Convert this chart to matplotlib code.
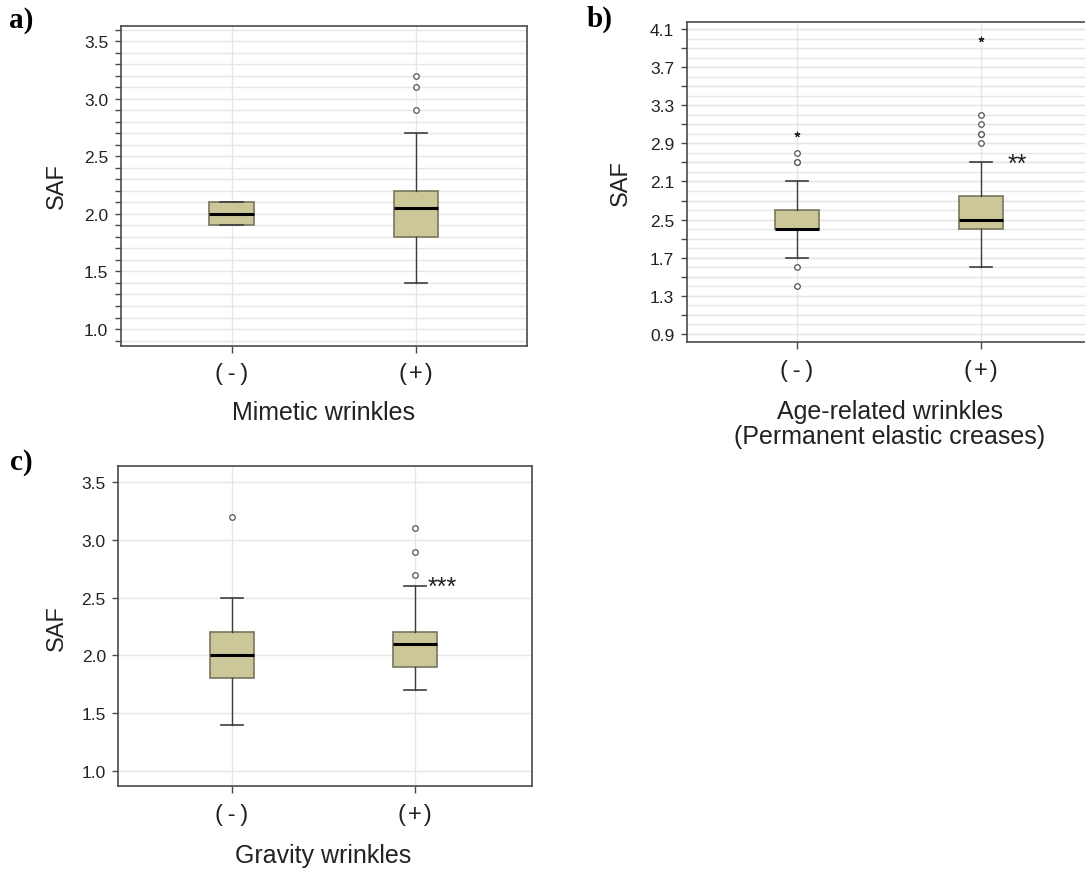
import matplotlib
matplotlib.use("Agg")
import matplotlib.pyplot as plt
from matplotlib.ticker import MultipleLocator, FixedLocator, FixedFormatter

# ---------------- data ----------------
categories = ["(-)", "(+)"]
category_display = ["(\u2009-\u2009)", "(\u200a+\u200a)"]

# panel a: Mimetic wrinkles
a_q1 = [1.9, 1.8]
a_med = [2.0, 2.05]
a_q3 = [2.1, 2.2]
a_wlo = [1.9, 1.4]
a_whi = [2.1, 2.7]
a_fliers = [[], [2.9, 3.1, 3.2]]
a_extremes = [[], []]

# panel b: Age-related wrinkles
b_q1 = [2.0, 2.0]
b_med = [2.0, 2.1]
b_q3 = [2.2, 2.35]
b_wlo = [1.7, 1.6]
b_whi = [2.5, 2.7]
b_fliers = [[1.4, 1.6, 2.7, 2.7, 2.8], [2.9, 3.0, 3.0, 3.1, 3.2]]
b_extremes = [[3.0], [4.0]]
b_tick_pos = [0.9, 1.3, 1.7, 2.1, 2.5, 2.9, 3.3, 3.7, 4.1]
b_tick_labels = ["0.9", "1.3", "1.7", "2.5", "2.1", "2.9", "3.3", "3.7", "4.1"]

# panel c: Gravity wrinkles
c_q1 = [1.8, 1.9]
c_med = [2.0, 2.1]
c_q3 = [2.2, 2.2]
c_wlo = [1.4, 1.7]
c_whi = [2.5, 2.6]
c_fliers = [[3.2], [2.7, 2.9, 3.1]]
c_extremes = [[], []]

# ---------------- style ----------------
W, H = 1085, 870
fig = plt.figure(figsize=(W / 100, H / 100), dpi=100)
SANS = ["Liberation Sans", "DejaVu Sans"]
SERIF = ["Liberation Serif", "DejaVu Serif"]
plt.rcParams["font.family"] = SANS

BOX_FILL = "#cbc798"
BOX_EDGE = "#77765f"
WHISK = "#3d3d3d"
GRID = "#e6e6e6"
SPINE = "#4a4a4a"
TXT = "#222222"


def px_axes(left, top, right, bottom):
    return fig.add_axes([left / W, 1 - bottom / H, (right - left) / W, (bottom - top) / H])


def draw_panel(ax, q1, med, q3, wlo, whi, fliers, extremes, ylim, xlim=(0.4, 2.6)):
    stats = []
    for i in range(len(categories)):
        stats.append(dict(q1=q1[i], med=med[i], q3=q3[i], whislo=wlo[i],
                          whishi=whi[i], fliers=fliers[i], label=categories[i]))
    ax.bxp(stats, positions=[1, 2], widths=0.24, capwidths=0.12,
           patch_artist=True, showfliers=True,
           boxprops=dict(facecolor=BOX_FILL, edgecolor=BOX_EDGE, linewidth=1.2),
           medianprops=dict(color="black", linewidth=2.2),
           whiskerprops=dict(color=WHISK, linewidth=1.0),
           capprops=dict(color=WHISK, linewidth=1.2),
           flierprops=dict(marker="o", markersize=4, markerfacecolor="white",
                           markeredgecolor="#555555", markeredgewidth=0.9),
           zorder=3)
    for i, ex in enumerate(extremes):
        if ex:
            ax.plot([i + 1] * len(ex), ex, linestyle="none", marker=(5, 2, 0),
                    markersize=4, color="#222222", markeredgewidth=0.8, zorder=4)
    ax.set_xlim(*xlim)
    ax.set_ylim(*ylim)
    ax.set_xticks([1, 2])
    ax.set_xticklabels(category_display, fontsize=17, color=TXT)
    ax.tick_params(axis="x", length=5, width=1, color=SPINE, pad=7)
    ax.tick_params(axis="y", labelsize=12.5, labelcolor=TXT, color=SPINE,
                   width=1, length=4, pad=5)
    for s in ax.spines.values():
        s.set_color(SPINE)
        s.set_linewidth(1.2)
    ax.set_axisbelow(True)
    ax.xaxis.grid(True, color=GRID, linewidth=1.0)


# ---------------- panel a ----------------
ax_a = px_axes(120.7, 26.7, 527, 346.7)
draw_panel(ax_a, a_q1, a_med, a_q3, a_wlo, a_whi, a_fliers, a_extremes, (0.855, 3.636))
ax_a.yaxis.set_major_locator(FixedLocator([1.0, 1.5, 2.0, 2.5, 3.0, 3.5]))
ax_a.yaxis.set_major_formatter(FixedFormatter(["1.0", "1.5", "2.0", "2.5", "3.0", "3.5"]))
ax_a.yaxis.set_minor_locator(MultipleLocator(0.1))
ax_a.tick_params(axis="y", which="minor", length=4, width=1, color=SPINE)
ax_a.yaxis.grid(True, which="both", color=GRID, linewidth=1.0)

# ---------------- panel b ----------------
ax_b = px_axes(686.7, 23.3, 1091, 343.3)
draw_panel(ax_b, b_q1, b_med, b_q3, b_wlo, b_whi, b_fliers, b_extremes, (0.813, 4.17))
ax_b.yaxis.set_major_locator(FixedLocator(b_tick_pos))
ax_b.yaxis.set_major_formatter(FixedFormatter(b_tick_labels))
minor_b = [b_tick_pos[0] + 0.2 * k for k in range(17) if k % 2 == 1]
ax_b.yaxis.set_minor_locator(FixedLocator(minor_b))
ax_b.tick_params(axis="y", which="minor", length=4, width=1, color=SPINE)
ax_b.yaxis.grid(True, which="both", color=GRID, linewidth=1.0)
for k in range(33):
    ax_b.axhline(b_tick_pos[0] + 0.1 * k, color=GRID, linewidth=1.0, zorder=0)
ax_b.text(2.2, 2.69, "**", fontsize=18, ha="center", va="center", color=TXT)

# ---------------- panel c ----------------
ax_c = px_axes(118.3, 467.3, 531.7, 787)
draw_panel(ax_c, c_q1, c_med, c_q3, c_wlo, c_whi, c_fliers, c_extremes, (0.867, 3.639),
           xlim=(0.38, 2.64))
ax_c.yaxis.set_major_locator(FixedLocator([1.0, 1.5, 2.0, 2.5, 3.0, 3.5]))
ax_c.yaxis.set_major_formatter(FixedFormatter(["1.0", "1.5", "2.0", "2.5", "3.0", "3.5"]))
ax_c.yaxis.grid(True, which="major", color=GRID, linewidth=1.0)
ax_c.text(2.15, 2.59, "***", fontsize=18, ha="center", va="center", color=TXT)

# ---------------- labels ----------------
def ftext(x, y, s, **kw):
    fig.text(x / W, 1 - y / H, s, **kw)

ftext(57, 186, "SAF", rotation=90, fontsize=17, ha="center", va="center", color=TXT)
ftext(621, 183, "SAF", rotation=90, fontsize=17, ha="center", va="center", color=TXT)
ftext(57, 628, "SAF", rotation=90, fontsize=17, ha="center", va="center", color=TXT)

ftext(323, 413, "Mimetic wrinkles", fontsize=18, ha="center", va="center", color=TXT)
ftext(890, 412, "Age-related wrinkles", fontsize=18, ha="center", va="center", color=TXT)
ftext(890, 437, "(Permanent elastic creases)", fontsize=18, ha="center", va="center", color=TXT)
ftext(323, 856, "Gravity wrinkles", fontsize=18, ha="center", va="center", color=TXT)

ftext(9, 20, "a)", fontsize=21, fontweight="bold", family=SERIF, ha="left", va="center")
ftext(587, 19, "b)", fontsize=21, fontweight="bold", family=SERIF, ha="left", va="center")
ftext(10, 463, "c)", fontsize=21, fontweight="bold", family=SERIF, ha="left", va="center")

fig.savefig("out.png", dpi=100, facecolor="white")
